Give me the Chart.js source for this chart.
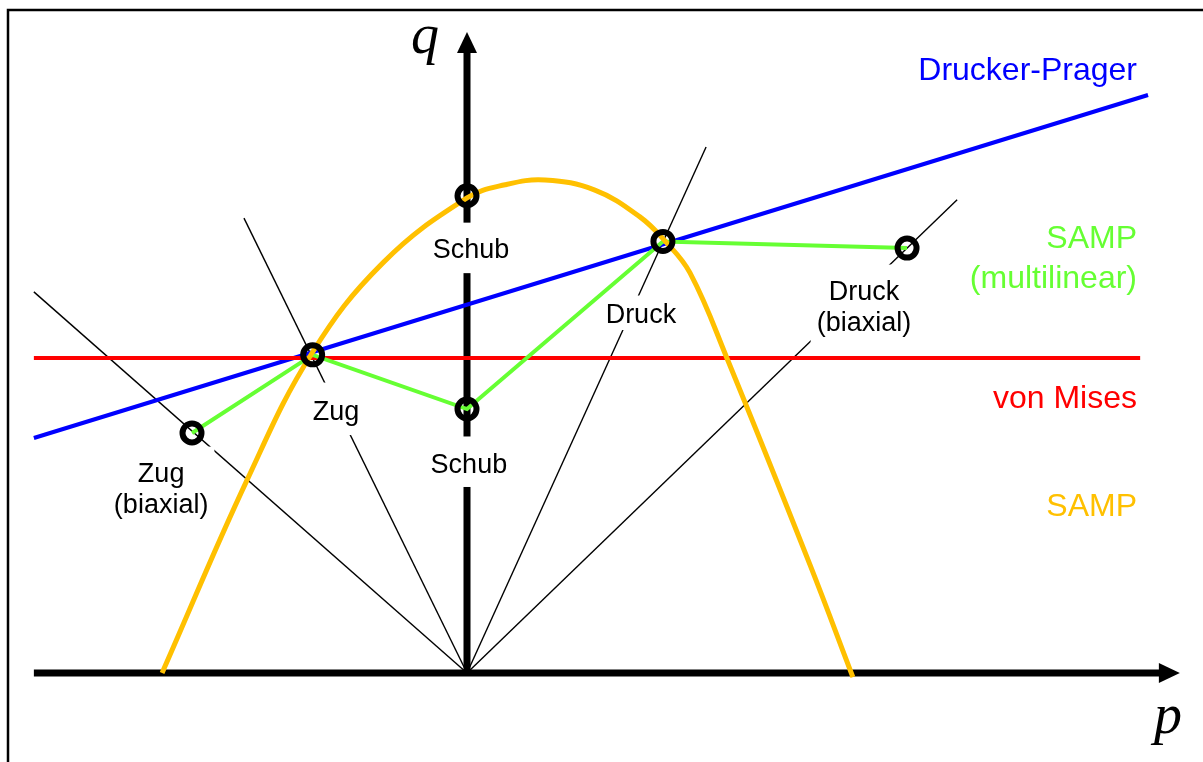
<!DOCTYPE html>
<html lang="de">
<head>
<meta charset="utf-8">
<title>Fliessflaechen im p-q-Diagramm</title>
<script src="https://cdn.jsdelivr.net/npm/chart.js@4.4.0/dist/chart.umd.min.js"></script>
<style>
  html, body { margin: 0; padding: 0; background: #fff; }
  canvas { display: block; }
</style>
</head>
<body>
<canvas id="pq" width="1203" height="762"></canvas>
<script>
// Fliessflaechen (p = hydrostatischer Druck, q = Vergleichsspannung)
var vonMisesP = [-1.375, 2.137];
var vonMisesQ = [1.0, 1.0];

var druckerPragerP = [-1.375, 2.162];
var druckerPragerQ = [0.746, 1.835];

// SAMP (multilinear): Zug biaxial, Zug, Schub, Druck, Druck biaxial
var sampLinP = [-0.873, -0.49, 0, 0.622, 1.397];
var sampLinQ = [0.762, 1.01, 0.838, 1.37, 1.349];

// SAMP (glatt)
var sampP = [-0.968, -0.698, -0.492, -0.267, 0.0, 0.121, 0.248, 0.406, 0.549, 0.629, 0.708, 0.825, 1.089, 1.225];
var sampQ = [0.0, 0.613, 1.016, 1.302, 1.508, 1.55, 1.565, 1.533, 1.448, 1.371, 1.27, 1.0, 0.343, -0.013];

// Schubpunkt auf der SAMP-Kurve
var schubSampP = [0];
var schubSampQ = [1.515];

// Belastungspfade vom Ursprung aus (Endpunkte)
var rayNames = ['Zug (biaxial)', 'Zug', 'Druck', 'Druck (biaxial)'];
var rayEndP = [-1.375, -0.708, 0.759, 1.556];
var rayEndQ = [1.21, 1.444, 1.67, 1.502];

// Achsen
var axisPMin = -1.375, axisPMax = 2.263, axisQMax = 2.035;

var YELLOW = '#FFC000', GREEN = '#66FF33', BLUE = '#0000FF', RED = '#FF0000';
var sans = '"Liberation Sans", Arial, Helvetica, sans-serif';
var serif = '"Liberation Serif", "Times New Roman", serif';

var pointLabels = [
  { lines: ['Schub'], p: 0.013, q: 1.317, pad: [16, 15] },
  { lines: ['Schub'], p: 0.006, q: 0.635, pad: [17, 14] },
  { lines: ['Zug'], p: -0.416, q: 0.803, pad: [18, 15] },
  { lines: ['Zug', '(biaxial)'], p: -0.971, q: 0.606, pad: [16, 15] },
  { lines: ['Druck'], p: 0.552, q: 1.111, pad: [8, 7] },
  { lines: ['Druck', '(biaxial)'], p: 1.26, q: 1.184, pad: [16, 18] }
];

var legendLabels = [
  { lines: ['Drucker-Prager'], q: 1.883, color: BLUE },
  { lines: ['SAMP', '(multilinear)'], q: 1.349, color: GREEN },
  { lines: ['von Mises'], q: 0.841, color: RED },
  { lines: ['SAMP'], q: 0.498, color: YELLOW }
];
var legendRightP = 2.127;

function pts(ps, qs) {
  return ps.map(function (p, i) { return { x: p, y: qs[i] }; });
}

function lineSet(label, ps, qs, color, width, order) {
  return {
    label: label,
    data: pts(ps, qs),
    showLine: true,
    borderColor: color,
    borderWidth: width,
    pointRadius: 0,
    fill: false,
    clip: false,
    order: order
  };
}

var datasets = [];
rayNames.forEach(function (name, i) {
  datasets.push(lineSet('Pfad ' + name, [0, rayEndP[i]], [0, rayEndQ[i]], '#000', 1.4, 10));
});
datasets.push(lineSet('Drucker-Prager', druckerPragerP, druckerPragerQ, BLUE, 4, 6));
datasets.push(lineSet('von Mises', vonMisesP, vonMisesQ, RED, 4, 5));
datasets.push(lineSet('SAMP (multilinear)', sampLinP, sampLinQ, GREEN, 4, 4));
var samp = lineSet('SAMP', sampP, sampQ, YELLOW, 5, 3);
samp.tension = 0.4;
datasets.push(samp);
datasets.push({
  label: 'Versuchspunkte',
  data: pts(sampLinP.concat(schubSampP), sampLinQ.concat(schubSampQ)),
  showLine: false,
  pointStyle: 'circle',
  pointRadius: 9.5,
  pointBorderWidth: 6,
  pointBorderColor: '#000',
  pointBackgroundColor: 'rgba(0,0,0,0)',
  clip: false,
  order: 1
});

function labelBox(ctx, chart, lb) {
  var xs = chart.scales.x, ys = chart.scales.y;
  var cx = xs.getPixelForValue(lb.p), base = ys.getPixelForValue(lb.q);
  ctx.font = '27px ' + sans;
  var w = 0;
  lb.lines.forEach(function (t) { w = Math.max(w, ctx.measureText(t).width); });
  var top = base - 19.5 - lb.pad[0];
  var bottom = base + 31 * (lb.lines.length - 1) + lb.pad[1];
  return { x: cx - w / 2 - 6, y: top, w: w + 12, h: bottom - top, cx: cx, base: base };
}

var diagramPlugin = {
  id: 'diagram',
  beforeDatasetsDraw: function (chart) {
    var ctx = chart.ctx, xs = chart.scales.x, ys = chart.scales.y;
    var ox = xs.getPixelForValue(0), oy = ys.getPixelForValue(0);
    var px = xs.getPixelForValue(axisPMax), qy = ys.getPixelForValue(axisQMax);
    ctx.save();
    // Rahmen
    ctx.strokeStyle = '#000';
    ctx.lineWidth = 2.5;
    ctx.beginPath();
    ctx.moveTo(8, chart.height);
    ctx.lineTo(8, 10);
    ctx.lineTo(chart.width, 10);
    ctx.stroke();
    // Achsen
    ctx.lineWidth = 7;
    ctx.lineCap = 'butt';
    ctx.beginPath();
    ctx.moveTo(xs.getPixelForValue(axisPMin), oy);
    ctx.lineTo(px - 18, oy);
    ctx.moveTo(ox, oy + 3.5);
    ctx.lineTo(ox, qy + 18);
    ctx.stroke();
    ctx.fillStyle = '#000';
    ctx.beginPath();
    ctx.moveTo(px, oy);
    ctx.lineTo(px - 21, oy - 10);
    ctx.lineTo(px - 21, oy + 10);
    ctx.closePath();
    ctx.fill();
    ctx.beginPath();
    ctx.moveTo(ox, qy);
    ctx.lineTo(ox - 10, qy + 21);
    ctx.lineTo(ox + 10, qy + 21);
    ctx.closePath();
    ctx.fill();
    ctx.restore();
  },
  beforeDatasetDraw: function (chart, args) {
    // weisse Felder hinter den Beschriftungen, vor den Fliessflaechen
    if (chart.data.datasets[args.index].label !== 'Drucker-Prager') return;
    var ctx = chart.ctx;
    ctx.save();
    ctx.fillStyle = '#fff';
    pointLabels.forEach(function (lb) {
      var b = labelBox(ctx, chart, lb);
      ctx.fillRect(b.x, b.y, b.w, b.h);
    });
    ctx.restore();
  },
  afterDraw: function (chart) {
    var ctx = chart.ctx, xs = chart.scales.x, ys = chart.scales.y;
    ctx.save();
    ctx.textBaseline = 'alphabetic';
    ctx.textAlign = 'center';
    ctx.fillStyle = '#000';
    pointLabels.forEach(function (lb) {
      var b = labelBox(ctx, chart, lb);
      ctx.font = '27px ' + sans;
      lb.lines.forEach(function (t, i) { ctx.fillText(t, b.cx, b.base + 31 * i); });
    });
    ctx.textAlign = 'right';
    ctx.font = '32px ' + sans;
    var rx = xs.getPixelForValue(legendRightP);
    legendLabels.forEach(function (lb) {
      ctx.fillStyle = lb.color;
      var y = ys.getPixelForValue(lb.q);
      lb.lines.forEach(function (t, i) { ctx.fillText(t, rx, y + 40 * i); });
    });
    ctx.fillStyle = '#000';
    ctx.textAlign = 'center';
    ctx.font = 'italic 56px ' + serif;
    ctx.fillText('q', xs.getPixelForValue(-0.133), ys.getPixelForValue(1.968));
    ctx.fillText('p', xs.getPixelForValue(2.225), ys.getPixelForValue(-0.19));
    ctx.restore();
  }
};

new Chart(document.getElementById('pq').getContext('2d'), {
  type: 'scatter',
  data: { datasets: datasets },
  options: {
    responsive: false,
    animation: false,
    layout: { autoPadding: false, padding: { left: 26, right: 11.5, top: 11.5, bottom: 10.25 } },
    plugins: { legend: { display: false }, tooltip: { enabled: false } },
    scales: {
      x: { type: 'linear', min: -1.4, max: 2.3, display: false },
      y: { type: 'linear', min: -0.25, max: 2.1, display: false }
    }
  },
  plugins: [diagramPlugin]
});
</script>
</body>
</html>
